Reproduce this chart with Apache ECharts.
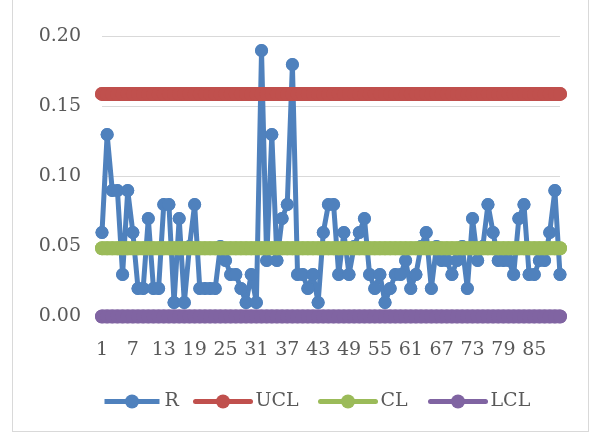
<!DOCTYPE html>
<html>
<head>
<meta charset="utf-8">
<script src="https://cdn.jsdelivr.net/npm/echarts@6/dist/echarts.min.js"></script>
<style>
  html, body { margin: 0; padding: 0; background: #ffffff; }
  #frame { position: absolute; left: 12px; top: -1px; width: 577px; height: 433px; border: 1px solid #d9d9d9; box-sizing: border-box; }
  #chart { position: absolute; left: 0; top: 0; width: 593px; height: 437px; }
</style>
</head>
<body>
<div id="frame"></div>
<div id="chart"></div>
<script>
// Sample numbers 1..90
const categories = Array.from({ length: 90 }, (_, i) => String(i + 1));

// Range values
const rValues = [
  0.06, 0.13, 0.09, 0.09, 0.03, 0.09, 0.06, 0.02, 0.02, 0.07,
  0.02, 0.02, 0.08, 0.08, 0.01, 0.07, 0.01, 0.05, 0.08, 0.02,
  0.02, 0.02, 0.02, 0.05, 0.04, 0.03, 0.03, 0.02, 0.01, 0.03,
  0.01, 0.19, 0.04, 0.13, 0.04, 0.07, 0.08, 0.18, 0.03, 0.03,
  0.02, 0.03, 0.01, 0.06, 0.08, 0.08, 0.03, 0.06, 0.03, 0.05,
  0.06, 0.07, 0.03, 0.02, 0.03, 0.01, 0.02, 0.03, 0.03, 0.04,
  0.02, 0.03, 0.05, 0.06, 0.02, 0.05, 0.04, 0.04, 0.03, 0.04,
  0.05, 0.02, 0.07, 0.04, 0.05, 0.08, 0.06, 0.04, 0.04, 0.04,
  0.03, 0.07, 0.08, 0.03, 0.03, 0.04, 0.04, 0.06, 0.09, 0.03
];

// Control limits
const uclValue = 0.159;
const clValue = 0.0487;
const lclValue = 0;
const uclValues = categories.map(() => uclValue);
const clValues = categories.map(() => clValue);
const lclValues = categories.map(() => lclValue);

// Y tick labels
const yTicks = [0, 0.05, 0.10, 0.15, 0.20];

// Legend entries
const legendNames = ['R', 'UCL', 'CL', 'LCL'];
const legendLefts = [97, 188, 313, 423];

const FONT = '"DejaVu Serif", "Liberation Serif", serif';
const TEXT = '#595959';

function limitSeries(name, data, color) {
  return {
    name: name,
    type: 'line',
    data: data,
    symbol: 'circle',
    symbolSize: 14,
    showAllSymbol: true,
    z: 3,
    lineStyle: { color: color, width: 14, cap: 'round' },
    itemStyle: { color: color, borderWidth: 0, opacity: 1 },
    emphasis: { disabled: true },
    silent: true
  };
}

const chart = echarts.init(document.getElementById('chart'), null, { renderer: 'canvas' });
chart.setOption({
  animation: false,
  backgroundColor: 'transparent',
  grid: { left: 102, right: 33, top: 36.5, bottom: 120.5, containLabel: false },
  xAxis: {
    type: 'category',
    data: categories,
    boundaryGap: false,
    axisLine: { show: false },
    axisTick: { show: false },
    axisLabel: { interval: 5, color: TEXT, fontFamily: FONT, fontSize: 19, margin: 24 },
    splitLine: { show: false }
  },
  yAxis: {
    type: 'value',
    min: yTicks[0],
    max: yTicks[yTicks.length - 1],
    interval: 0.05,
    axisLine: { show: false },
    axisTick: { show: false },
    axisLabel: { color: TEXT, fontFamily: FONT, fontSize: 19, margin: 21, formatter: v => v.toFixed(2) },
    splitLine: { lineStyle: { color: '#d9d9d9', width: 1 } }
  },
  legend: legendNames.map((n, i) => ({
    left: legendLefts[i],
    top: 387,
    itemWidth: 55,
    itemHeight: 17.5,
    itemGap: 0,
    lineStyle: { width: 5 },
    itemStyle: { borderWidth: 0 },
    textStyle: { color: TEXT, fontFamily: FONT, fontSize: 19 },
    data: [n]
  })),
  series: [
    {
      name: 'R',
      type: 'line',
      data: rValues,
      symbol: 'circle',
      symbolSize: 13,
      showAllSymbol: true,
      z: 2,
      lineStyle: { color: '#4f81bd', width: 5 },
      itemStyle: { color: '#4f81bd', borderWidth: 0, opacity: 1 },
      emphasis: { disabled: true }
    },
    {
      name: 'R',
      type: 'scatter',
      data: rValues,
      symbol: 'circle',
      symbolSize: 13,
      z: 2,
      itemStyle: { color: '#4f81bd', borderWidth: 0, opacity: 1 },
      emphasis: { disabled: true },
      silent: true
    },
    limitSeries('UCL', uclValues, '#c0504d'),
    limitSeries('CL', clValues, '#9bbb59'),
    limitSeries('LCL', lclValues, '#8064a2')
  ]
});
</script>
</body>
</html>
